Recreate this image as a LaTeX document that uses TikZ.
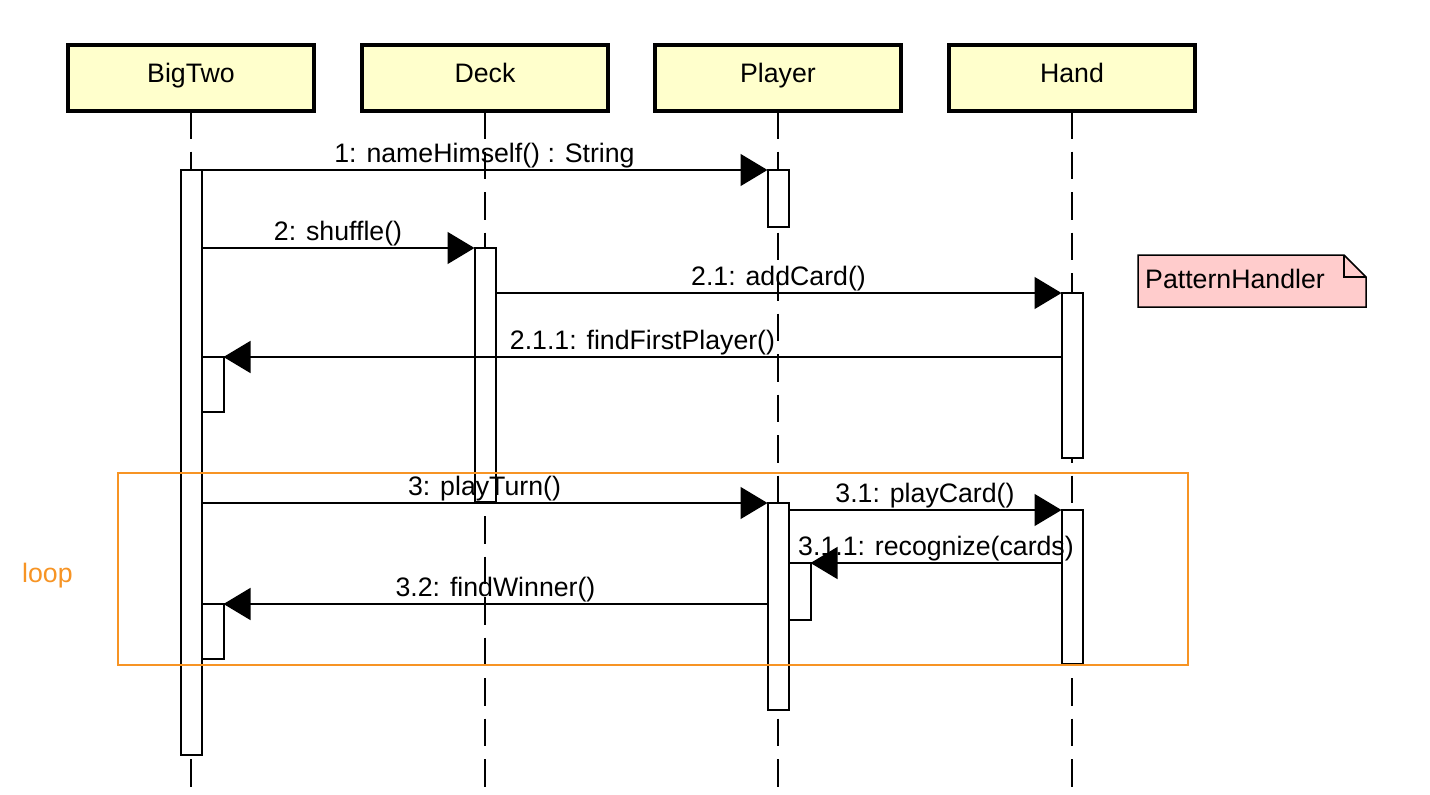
\documentclass[tikz,border=0pt]{standalone}
\usepackage{fontspec}
\setmainfont{Liberation Sans}
\usetikzlibrary{arrows.meta}
\definecolor{hdrfill}{RGB}{255,255,204}
\definecolor{notefill}{RGB}{255,204,204}
\definecolor{loopcol}{RGB}{247,148,36}
\begin{document}
\begin{tikzpicture}[x=1pt,y=-1pt,
  every node/.style={font=\fontsize{26.7}{32}\selectfont},
  hdr/.style={draw=black, line width=4pt, fill=hdrfill, minimum width=246pt, minimum height=66pt, inner sep=0pt, outer sep=0pt},
  txt/.style={inner sep=0pt, anchor=base},
  life/.style={draw=black, line width=2pt, dash pattern=on 27.5pt off 13pt},
  bar/.style={draw=black, fill=white, line width=2pt, minimum width=21pt, inner sep=0pt, outer sep=0pt, anchor=north},
  msg/.style={draw=black, line width=1.5pt, -{Triangle[length=27pt,width=32pt]}},
  lbl/.style={midway, anchor=base, yshift=8pt, inner sep=0pt},
]
\useasboundingbox (0,0) rectangle (1430,795);
\fill[white] (0,0) rectangle (1430,795);

% header boxes
\node[hdr] (hBig) at (191,78) {};
\node[hdr] (hDeck) at (485,78) {};
\node[hdr] (hPl) at (778,78) {};
\node[hdr] (hHand) at (1072,78) {};

% lifeline ends
\coordinate (eBig) at (191,787);
\coordinate (eDeck) at (485,787);
\coordinate (ePl) at (778,787);
\coordinate (eHand) at (1072,787);

\draw[life] (hBig.south) -- (eBig);
\draw[life] (hDeck.south) -- (eDeck);
\draw[life] (hPl.south) -- (ePl);
\draw[life] (hHand.south) -- (eHand);

% redraw headers over lifeline starts
\node[hdr] at (191,78) {};
\node[hdr] at (485,78) {};
\node[hdr] at (778,78) {};
\node[hdr] at (1072,78) {};
\node[txt] (tBig) at (191,82) {BigTwo};
\node[txt] (tDeck) at (485,82) {Deck};
\node[txt] (tPl) at (778,82) {Player};
\node[txt] (tHand) at (1072,82) {Hand};

% activation bars
\node[bar, minimum height=585pt] (btA) at (191,170) {};
\node[bar, minimum height=57pt] (plA) at (778,170) {};
\node[bar, minimum height=254pt] (dkA) at (485,248) {};
\node[bar, minimum height=165pt] (hdA) at (1072,293) {};
\node[bar, minimum height=55pt, minimum width=22pt] (btN1) at (212.5,357) {};
\node[bar, minimum height=207pt] (plB) at (778,503) {};
\node[bar, minimum height=154pt] (hdB) at (1072,510) {};
\node[bar, minimum height=57pt, minimum width=22pt] (plN) at (799.5,563) {};
\node[bar, minimum height=55pt, minimum width=22pt] (btN2) at (212.5,604) {};

% loop frame
\draw[loopcol, line width=1.5pt] (118,473) rectangle (1188,665);
\node[txt, anchor=base west, text=loopcol] (tLoop) at (22,582) {loop};

% messages
\draw[msg] (btA.north east) -- (plA.north west)
  node[lbl] (l1) {1: nameHimself() : String};
\draw[msg] (btA.east |- dkA.north) -- (dkA.north west)
  node[lbl] (l2) {2: shuffle()};
\draw[msg] (dkA.east |- hdA.north) -- (hdA.north west)
  node[lbl] (l21) {2.1: addCard()};
\draw[msg] (hdA.west |- btN1.north) -- (btN1.north east)
  node[lbl] (l211) {2.1.1: findFirstPlayer()};
\draw[msg] (btA.east |- plB.north) -- (plB.north west)
  node[lbl] (l3) {3: playTurn()};
\draw[msg] (plB.east |- hdB.north) -- (hdB.north west)
  node[lbl] (l31) {3.1: playCard()};
\draw[msg] (hdB.west |- plN.north) -- (plN.north east)
  node[lbl] (l311) {3.1.1: recognize(cards)};
\draw[msg] (plB.west |- btN2.north) -- (btN2.north east)
  node[lbl] (l32) {3.2: findWinner()};

% note
\draw[fill=notefill, line width=1.5pt] (1138,255) -- (1344,255) -- (1366,277) -- (1366,307) -- (1138,307) -- cycle;
\draw[line width=1.5pt] (1344,255) -- (1344,277) -- (1366,277);
\node[txt, anchor=base west] (nPH) at (1145,288) {PatternHandler};
\end{tikzpicture}
\end{document}
